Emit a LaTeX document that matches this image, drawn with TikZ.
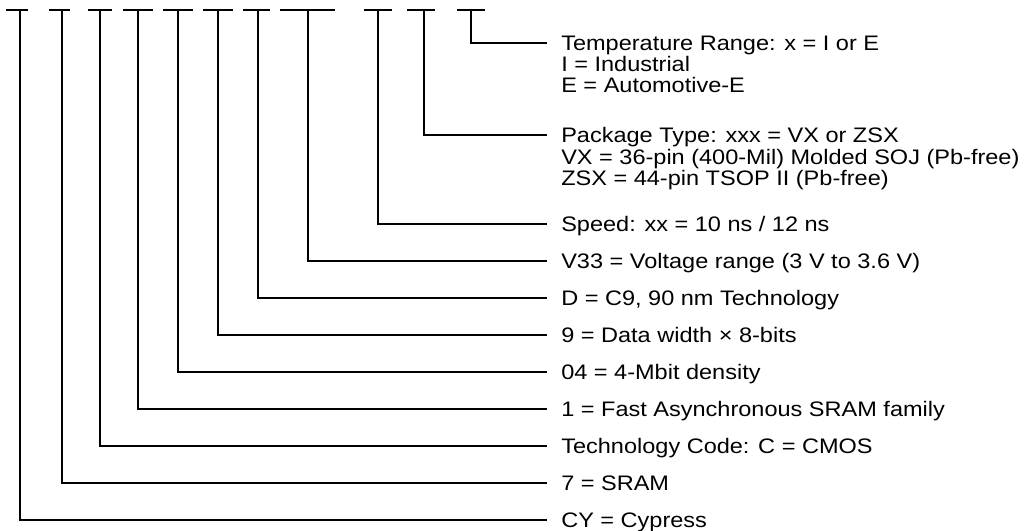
\documentclass[tikz,border=0pt]{standalone}
\usepackage{fontspec}
\setmainfont{Liberation Sans}[FakeStretch=1.12]

\begin{document}
\begin{tikzpicture}[x=0.75pt, y=-0.75pt,
  field/.style={line width=1.8pt},
  desc/.style={anchor=north west, inner sep=0pt, align=left,
    font=\fontsize{15.75pt}{15.9pt}\selectfont}]
\useasboundingbox (0,0) rectangle (1028,531);

% placeholder dashes of the part number
\draw[field] (6,10) -- (28,10);
\draw[field] (49,10) -- (70,10);
\draw[field] (88,10) -- (112,10);
\draw[field] (123,10) -- (153,10);
\draw[field] (163,10) -- (193,10);
\draw[field] (203,10) -- (233,10);
\draw[field] (243,10) -- (270,10);
\draw[field] (280,10) -- (335,10);
\draw[field] (364,10) -- (392,10);
\draw[field] (407,10) -- (435,10);
\draw[field] (457,10) -- (485,10);

% taps under the dashes
\coordinate (cyTap) at (20,10);
\coordinate (sramTap) at (62,10);
\coordinate (techTap) at (100,10);
\coordinate (famTap) at (138,10);
\coordinate (densTap) at (178,10);
\coordinate (widthTap) at (218,10);
\coordinate (procTap) at (258,10);
\coordinate (voltTap) at (308,10);
\coordinate (speedTap) at (378,10);
\coordinate (pkgTap) at (424,10);
\coordinate (tempTap) at (471,10);

% field descriptions
\node[desc] (temp) at (561,35.5) {Temperature Range: x = I or E\\I = Industrial\\E = Automotive-E};
\node[desc] (pkg) at (561,127.5) {Package Type: xxx = VX or ZSX\\VX = 36-pin (400-Mil) Molded SOJ (Pb-free)\\ZSX = 44-pin TSOP II (Pb-free)};
\node[desc] (speed) at (561,216.5) {Speed: xx = 10 ns / 12 ns};
\node[desc] (volt) at (561,253.5) {V33 = Voltage range (3 V to 3.6 V)};
\node[desc] (proc) at (561,290.5) {D = C9, 90 nm Technology};
\node[desc] (width) at (561,327.5) {9 = Data width × 8-bits};
\node[desc] (dens) at (561,364.5) {04 = 4-Mbit density};
\node[desc] (fam) at (561,401.5) {1 = Fast Asynchronous SRAM family};
\node[desc] (tech) at (561,438.5) {Technology Code: C = CMOS};
\node[desc] (sram) at (561,475.5) {7 = SRAM};
\node[desc] (cy) at (561,512.5) {CY = Cypress};

% leaders from each dash to its description
\draw[field] (tempTap) |- ([shift={(-14,7.5)}]temp.north west);
\draw[field] (pkgTap) |- ([shift={(-14,7.5)}]pkg.north west);
\draw[field] (speedTap) |- ([shift={(-14,7.5)}]speed.north west);
\draw[field] (voltTap) |- ([shift={(-14,7.5)}]volt.north west);
\draw[field] (procTap) |- ([shift={(-14,7.5)}]proc.north west);
\draw[field] (widthTap) |- ([shift={(-14,7.5)}]width.north west);
\draw[field] (densTap) |- ([shift={(-14,7.5)}]dens.north west);
\draw[field] (famTap) |- ([shift={(-14,7.5)}]fam.north west);
\draw[field] (techTap) |- ([shift={(-14,7.5)}]tech.north west);
\draw[field] (sramTap) |- ([shift={(-14,7.5)}]sram.north west);
\draw[field] (cyTap) |- ([shift={(-14,7.5)}]cy.north west);
\end{tikzpicture}
\end{document}
